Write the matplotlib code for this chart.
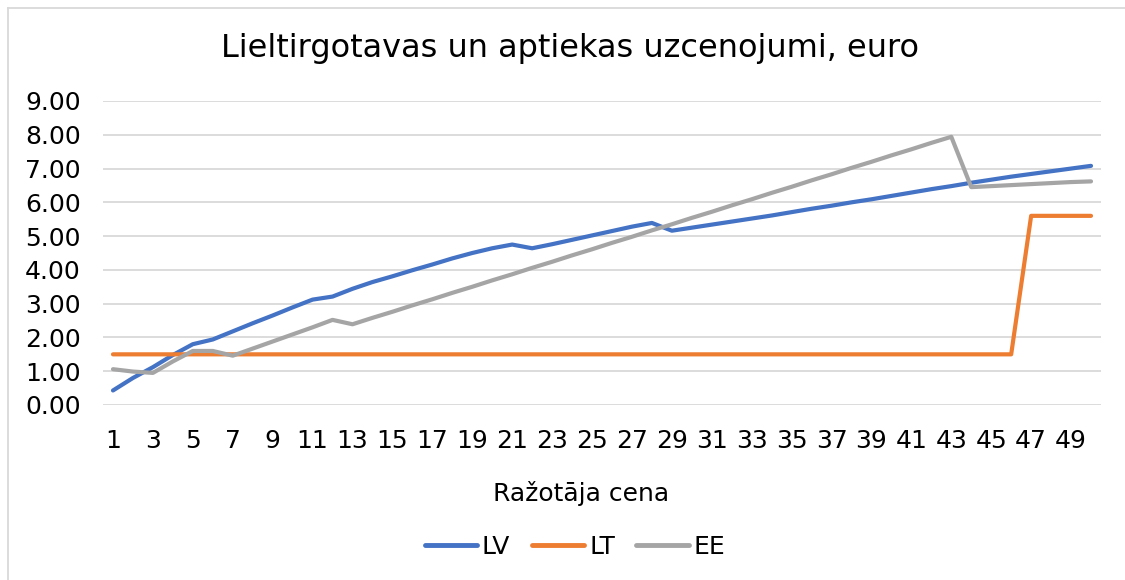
import matplotlib
matplotlib.use("Agg")
import matplotlib.pyplot as plt
from matplotlib.lines import Line2D

plt.rcParams['font.family'] = ['DejaVu Sans']

x_vals = list(range(1, 51))
tick_labels = [str(i) for i in range(1, 51, 2)]
y_ticks = [0, 1, 2, 3, 4, 5, 6, 7, 8, 9]

lv = [0.43, 0.80, 1.12, 1.48, 1.80, 1.94, 2.18, 2.42, 2.65, 2.89,
      3.12, 3.21, 3.44, 3.64, 3.81, 3.99, 4.16, 4.34, 4.50, 4.64,
      4.75, 4.64, 4.76, 4.89, 5.02, 5.15, 5.28, 5.39, 5.16, 5.25,
      5.34, 5.43, 5.52, 5.61, 5.71, 5.81, 5.90, 6.00, 6.09, 6.19,
      6.29, 6.39, 6.48, 6.58, 6.67, 6.76, 6.84, 6.92, 7.00, 7.08]
lt = [1.50, 1.50, 1.50, 1.50, 1.50, 1.50, 1.50, 1.50, 1.50, 1.50,
      1.50, 1.50, 1.50, 1.50, 1.50, 1.50, 1.50, 1.50, 1.50, 1.50,
      1.50, 1.50, 1.50, 1.50, 1.50, 1.50, 1.50, 1.50, 1.50, 1.50,
      1.50, 1.50, 1.50, 1.50, 1.50, 1.50, 1.50, 1.50, 1.50, 1.50,
      1.50, 1.50, 1.50, 1.50, 1.50, 1.50, 5.60, 5.60, 5.60, 5.60]
ee = [1.06, 0.99, 0.95, 1.29, 1.60, 1.60, 1.46, 1.67, 1.88, 2.09,
      2.30, 2.52, 2.39, 2.58, 2.76, 2.95, 3.13, 3.32, 3.50, 3.69,
      3.87, 4.06, 4.24, 4.43, 4.61, 4.80, 4.98, 5.17, 5.35, 5.54,
      5.72, 5.91, 6.09, 6.28, 6.46, 6.65, 6.83, 7.02, 7.20, 7.39,
      7.57, 7.76, 7.94, 6.45, 6.48, 6.51, 6.54, 6.57, 6.60, 6.62]

series_names = ["LV", "LT", "EE"]
colors = ["#4472C4", "#ED7D31", "#A5A5A5"]

W, H = 1125, 580
fig = plt.figure(figsize=(W / 100, H / 100), dpi=100)
fig.patch.set_facecolor("white")

# chart border (only left & top edges visible in the crop)
bx, by = 8 / W, 1 - 8 / H
fig.add_artist(Line2D([bx, bx], [0, by], transform=fig.transFigure,
                      color="#D9D9D9", lw=1.3))
fig.add_artist(Line2D([bx, 1], [by, by], transform=fig.transFigure,
                      color="#D9D9D9", lw=1.3))

ax = fig.add_axes([103 / W, 1 - 405 / H, (1101 - 103) / W, (405 - 101) / H])
for name, vals, c in zip(series_names, [lv, lt, ee], colors):
    ax.plot(x_vals, vals, color=c, lw=3, label=name,
            solid_capstyle="round", solid_joinstyle="round")

ax.set_xlim(0.5, 50.5)
ax.set_ylim(0, 9)
ax.set_yticks(y_ticks)
ax.set_yticklabels([f"{v:.2f}" for v in y_ticks])
ax.set_xticks(list(range(1, 51, 2)))
ax.set_xticklabels(tick_labels)
ax.tick_params(axis="both", length=0, labelsize=18, colors="#000000")
ax.tick_params(axis="y", pad=16)
ax.tick_params(axis="x", pad=17)
ax.grid(axis="y", color="#D9D9D9", lw=1.3)
ax.set_axisbelow(True)
for s in ax.spines.values():
    s.set_visible(False)

fig.text(570 / W, 1 - 48 / H, "Lieltirgotavas un aptiekas uzcenojumi, euro",
         ha="center", va="center", fontsize=23, color="#000000")
fig.text(581 / W, 1 - 493 / H, "Ražotāja cena", ha="center", va="center",
         fontsize=18, color="#000000")

leg = fig.legend(loc="center", bbox_to_anchor=(575 / W, 1 - 547 / H), ncol=3,
                 frameon=False, fontsize=18, handlelength=2.1,
                 handletextpad=0.2, columnspacing=0.85)
for line in leg.get_lines():
    line.set_linewidth(3.5)
    line.set_solid_capstyle("round")

fig.savefig("out.png", dpi=100, facecolor="white")
